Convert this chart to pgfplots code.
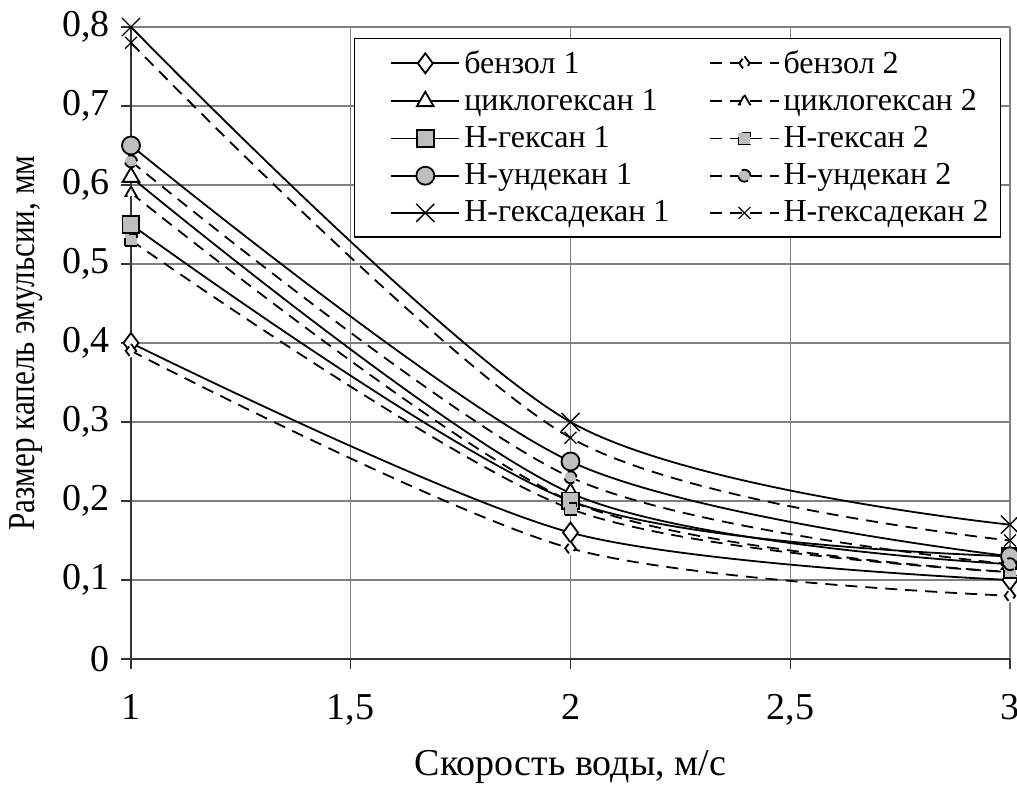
\documentclass[border=0pt]{standalone}
\usepackage{fontspec}
\setmainfont{Liberation Serif}
\usepackage{graphicx}
\usepackage{pgfplots}
\pgfplotsset{compat=1.18}

\pgfplotsset{
  s1/.style={black, line width=0.9pt, smooth, mark options={solid, line width=0.7pt}},
  s2/.style={black, line width=0.9pt, smooth, dash pattern=on 6pt off 4pt, mark options={solid, line width=0.6pt}},
}

\begin{document}
\begin{tikzpicture}
\begin{axis}[
  name=ax,
  scale only axis,
  width=439.5pt, height=316pt,
  xmin=1, xmax=3, ymin=0, ymax=0.8,
  xtick={1,1.5,2,2.5,3},
  ytick={0,0.1,...,0.8},
  axis lines=left,
  axis line style={-, black!80, line width=0.8pt},
  grid=major,
  major grid style={gray, line width=0.6pt},
  tick align=outside,
  major tick length=5pt,
  tick style={black!80, line width=0.6pt},
  /pgf/number format/use comma,
  /pgf/number format/assume math mode=true,
  ticklabel style={font=\fontsize{19}{22}\selectfont},
  xticklabel style={yshift=-9pt},
  yticklabel style={xshift=-2pt},
  label style={font=\fontsize{19}{22}\selectfont},
  xlabel={Скорость воды, м/с},
  ylabel={\scalebox{0.82}[1]{Размер капель эмульсии, мм}},
  xlabel style={yshift=-6pt},
  ylabel style={yshift=3pt},
  legend columns=2,
  legend style={at={(0.99,0.983)}, anchor=north east, draw=black, line width=0.6pt,
    font=\fontsize{16}{18}\selectfont, row sep=2.5pt,
    /tikz/every even column/.append style={column sep=4pt},
    inner xsep=4pt, inner ysep=4pt},
  legend cell align=left,
  legend image code/.code={%
    \path (-14pt,0pt);
    \draw[mark repeat=2, mark phase=2, #1] plot coordinates {(0cm,0cm) (0.6cm,0cm) (1.2cm,0cm)};},
]
\addplot[s1, mark=diamond*, mark size=5pt, mark options={fill=white}] coordinates {(1,0.40) (2,0.16) (3,0.10)};
\addlegendentry{бензол 1}
\addplot[s2, mark=diamond*, mark size=3.5pt, mark options={fill=white}] coordinates {(1,0.39) (2,0.14) (3,0.08)};
\addlegendentry{бензол 2}
\addplot[s1, mark=triangle*, mark size=4.8pt, mark options={fill=white}] coordinates {(1,0.61) (2,0.21) (3,0.12)};
\addlegendentry{циклогексан 1}
\addplot[s2, mark=triangle*, mark size=3.2pt, mark options={fill=white}] coordinates {(1,0.59) (2,0.20) (3,0.11)};
\addlegendentry{циклогексан 2}
\addplot[s1, mark=square*, mark size=4.2pt, mark options={fill=gray!50}] coordinates {(1,0.55) (2,0.20) (3,0.13)};
\addlegendentry{Н-гексан 1}
\addplot[s2, mark=square*, mark size=3pt, mark options={fill=gray!50}] coordinates {(1,0.53) (2,0.19) (3,0.11)};
\addlegendentry{Н-гексан 2}
\addplot[s1, mark=*, mark size=4.5pt, mark options={fill=gray!50}] coordinates {(1,0.65) (2,0.25) (3,0.13)};
\addlegendentry{Н-ундекан 1}
\addplot[s2, mark=*, mark size=3pt, mark options={fill=gray!50}] coordinates {(1,0.63) (2,0.23) (3,0.12)};
\addlegendentry{Н-ундекан 2}
\addplot[s1, mark=x, mark size=6.4pt] coordinates {(1,0.80) (2,0.30) (3,0.17)};
\addlegendentry{Н-гексадекан 1}
\addplot[s2, mark=x, mark size=4.2pt] coordinates {(1,0.78) (2,0.28) (3,0.15)};
\addlegendentry{Н-гексадекан 2}
\end{axis}
\pgfresetboundingbox
\path[use as bounding box] ([shift={(-65.5pt,-67pt)}]ax.south west) rectangle ([shift={(3.5pt,13.5pt)}]ax.north east);
\end{tikzpicture}
\end{document}
